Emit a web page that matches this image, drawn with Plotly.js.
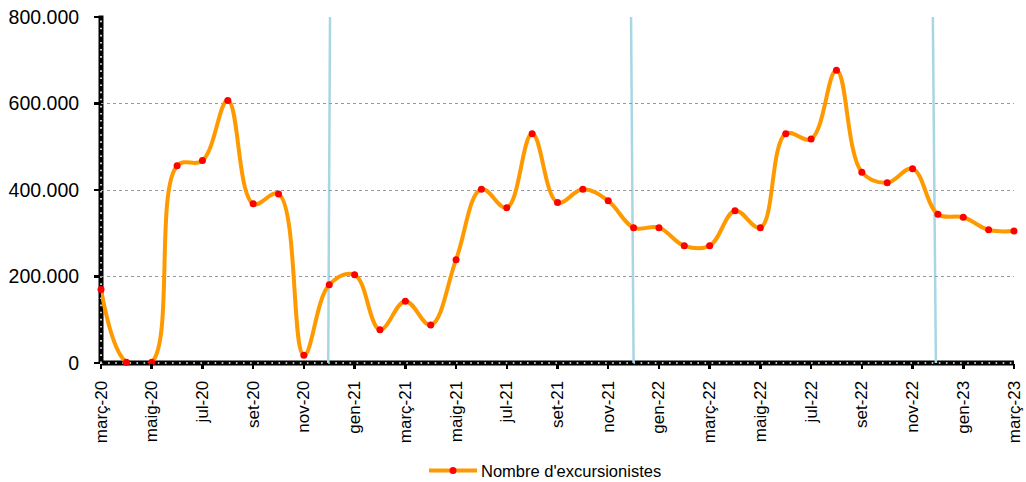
<!DOCTYPE html>
<html>
<head>
<meta charset="utf-8">
<script src="https://cdn.plot.ly/plotly-3.0.1.min.js"></script>
<style>html,body{margin:0;padding:0;background:#fff;}#chart{width:1026px;height:482px;}</style>
</head>
<body>
<div id="chart"></div>
<script>
// Months (Catalan) from març-20 to març-23
const months = [
  "març-20","abr-20","maig-20","juny-20","jul-20","ag-20","set-20","oct-20","nov-20","des-20",
  "gen-21","febr-21","març-21","abr-21","maig-21","juny-21","jul-21","ag-21","set-21","oct-21","nov-21","des-21",
  "gen-22","febr-22","març-22","abr-22","maig-22","juny-22","jul-22","ag-22","set-22","oct-22","nov-22","des-22",
  "gen-23","febr-23","març-23"
];
// Nombre d'excursionistes
const excursionistes = [
  170000, 2000, 2000, 456000, 468000, 607000, 368000, 391000, 18000, 181000,
  204000, 77000, 143000, 88000, 239000, 402000, 359000, 530000, 371000, 402000, 375000, 313000,
  313000, 271000, 271000, 352000, 313000, 530000, 518000, 677000, 441000, 417000, 449000, 344000,
  337000, 308000, 305000
];
// Tick labels shown every two months
const tickLabels = ["març-20","maig-20","jul-20","set-20","nov-20","gen-21","març-21","maig-21","jul-21","set-21","nov-21","gen-22","març-22","maig-22","jul-22","set-22","nov-22","gen-23","març-23"];
const yTicks = [0, 200000, 400000, 600000, 800000];
// Light-blue separator lines (category index at top, at bottom)
const separators = [[9.03, 8.96], [20.9, 21.0], [32.8, 32.92]];
const seriesName = "Nombre d'excursionistes";

const ORANGE = "#FF9900";
const RED = "#FF0000";
const FONT = "Liberation Sans, Arial, sans-serif";

const trace = {
  type: "scatter",
  mode: "lines+markers",
  x: months,
  y: excursionistes,
  name: seriesName,
  line: {color: ORANGE, width: 4, shape: "spline", smoothing: 1.1},
  marker: {color: RED, size: 7},
  cliponaxis: false,
  showlegend: false,
  hoverinfo: "x+y"
};

const shapes = [];
separators.forEach(s => {
  shapes.push({type: "line", xref: "x", yref: "y", x0: s[0], x1: s[1], y0: 800000, y1: 0,
    line: {color: "#A9D6E5", width: 2.5}, layer: "below"});
});
// axis bands (black with white dots)
shapes.push({type: "line", xref: "paper", yref: "paper", x0: 0, x1: 1, y0: 0, y1: 0,
  line: {color: "#000", width: 5}, layer: "below"});
shapes.push({type: "line", xref: "paper", yref: "paper", x0: 0, x1: 1, y0: 0, y1: 0,
  line: {color: "#fff", width: 1.6, dash: "1.6px,5.5px"}, layer: "below"});
shapes.push({type: "line", xref: "paper", yref: "paper", x0: 0, x1: 0, y0: 0, y1: 1.004,
  line: {color: "#000", width: 5}, layer: "below"});
shapes.push({type: "line", xref: "paper", yref: "paper", x0: 0, x1: 0, y0: 0, y1: 1,
  line: {color: "#fff", width: 1.6, dash: "1.6px,5.5px"}, layer: "below"});
// manual legend
const lgX0 = (429 - 101) / 913, lgX1 = (477 - 101) / 913, lgY = (363.5 - 471) / 346;
shapes.push({type: "line", xref: "paper", yref: "paper", x0: lgX0, x1: lgX1, y0: lgY, y1: lgY,
  line: {color: ORANGE, width: 4}});
const mx = (lgX0 + lgX1) / 2;
shapes.push({type: "circle", xref: "paper", yref: "paper", xsizemode: "pixel", ysizemode: "pixel",
  xanchor: mx, yanchor: lgY, x0: -3.5, x1: 3.5, y0: -3.5, y1: 3.5,
  fillcolor: RED, line: {width: 0}});

const layout = {
  width: 1026, height: 482,
  margin: {l: 101, r: 12, t: 17, b: 119},
  paper_bgcolor: "#fff", plot_bgcolor: "#fff",
  separators: ",.",
  font: {family: FONT, color: "#000"},
  showlegend: false,
  xaxis: {
    type: "category",
    range: [0, months.length - 1],
    tickmode: "array",
    tickvals: tickLabels,
    ticktext: tickLabels,
    tickangle: -90,
    tickfont: {family: FONT, size: 17, color: "#000"},
    ticks: "outside", ticklen: 5, tickwidth: 2.5, tickcolor: "#000",
    ticklabelstandoff: 5,
    showgrid: false, zeroline: false, showline: false,
    fixedrange: true
  },
  yaxis: {
    range: [0, 800000],
    tickmode: "array",
    tickvals: yTicks,
    tickformat: ",d",
    tickfont: {family: FONT, size: 19.5, color: "#000"},
    ticks: "outside", ticklen: 6, tickwidth: 2.5, tickcolor: "#000",
    ticklabelstandoff: 11,
    showgrid: true, gridcolor: "#999", griddash: "dot", gridwidth: 1,
    zeroline: false, showline: false,
    fixedrange: true
  },
  shapes: shapes,
  annotations: [{
    xref: "paper", yref: "paper", x: (479 - 101) / 913, y: lgY,
    xanchor: "left", yanchor: "middle", showarrow: false,
    text: seriesName, font: {family: FONT, size: 16.5, color: "#000"}
  }]
};

Plotly.newPlot("chart", [trace], layout, {displayModeBar: false, staticPlot: true});
</script>
</body>
</html>
